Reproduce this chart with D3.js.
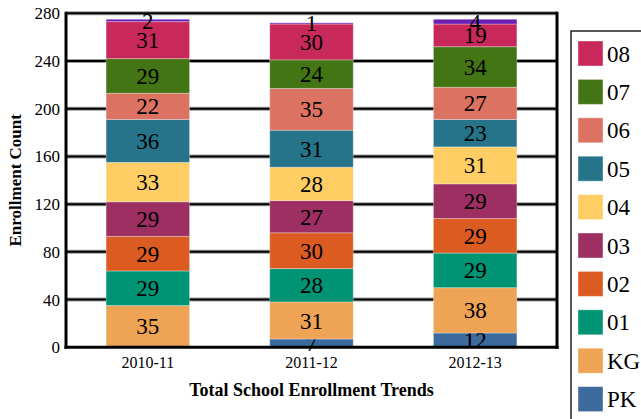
<!DOCTYPE html>
<html>
<head>
<meta charset="utf-8">
<script src="https://cdn.jsdelivr.net/npm/d3@7"></script>
<style>
  body { margin: 0; background: #fff; }
  svg { display: block; }
  svg text { font-family: "Liberation Serif", "Times New Roman", serif; }
</style>
</head>
<body>
<div id="chart"></div>
<script>
// school years on the x axis
const years = ["2010-11", "2011-12", "2012-13"]

// grades, bottom of the stack first
const grades = ["PK", "KG", "01", "02", "03", "04", "05", "06", "07", "08", "09"]

// enrollment per grade, one value per year
const pk  = [0, 7, 12]
const kg  = [35, 31, 38]
const g01 = [29, 28, 29]
const g02 = [29, 30, 29]
const g03 = [29, 27, 29]
const g04 = [33, 28, 31]
const g05 = [36, 31, 23]
const g06 = [22, 35, 27]
const g07 = [29, 24, 34]
const g08 = [31, 30, 19]
const g09 = [2, 1, 4]

const yTicks = [0, 40, 80, 120, 160, 200, 240, 280]

const gradeColors = {
  PK: "#3d6b9d",
  KG: "#efa354",
  "01": "#009474",
  "02": "#dc5b21",
  "03": "#9d2f62",
  "04": "#fece64",
  "05": "#26748a",
  "06": "#dc7262",
  "07": "#447515",
  "08": "#c8285a",
  "09": "#6c1fb4"
}

// legend shows 08 down to PK (the rest is cut off by the window)
const legendGrades = ["08", "07", "06", "05", "04", "03", "02", "01", "KG", "PK"]

const series = [pk, kg, g01, g02, g03, g04, g05, g06, g07, g08, g09]
const rows = years.map((y, i) => {
  const row = { year: y }
  grades.forEach((g, j) => { row[g] = series[j][i] })
  return row
})

const width = 641
const height = 419

const plot = { left: 66, right: 557, top: 13.3, bottom: 347.3 }

const svg = d3.select("#chart")
  .append("svg")
  .attr("width", width)
  .attr("height", height)

const xScale = d3.scaleBand()
  .domain(years)
  .range([plot.left, plot.right])
  .paddingInner(0.49)
  .paddingOuter(0.245)

const yScale = d3.scaleLinear()
  .domain([0, 280])
  .range([plot.bottom, plot.top])

// gridlines: gray band with a black core
const grid = svg.append("g").attr("class", "grid")
grid.selectAll("line.halo")
  .data(yTicks.filter(d => d > 0))
  .join("line")
  .attr("class", "halo")
  .attr("x1", plot.left)
  .attr("x2", plot.right)
  .attr("y1", d => yScale(d))
  .attr("y2", d => yScale(d))
  .attr("stroke", "#9a9a9a")
  .attr("stroke-width", 4)
grid.selectAll("line.core")
  .data(yTicks.filter(d => d > 0))
  .join("line")
  .attr("class", "core")
  .attr("x1", plot.left)
  .attr("x2", plot.right)
  .attr("y1", d => yScale(d))
  .attr("y2", d => yScale(d))
  .attr("stroke", "#000")
  .attr("stroke-width", 2)

// stacked bars
const stacked = d3.stack().keys(grades)(rows)

const layers = svg.append("g")
  .attr("class", "bars")
  .selectAll("g")
  .data(stacked)
  .join("g")
  .attr("fill", d => gradeColors[d.key])

layers.selectAll("rect")
  .data(d => d.filter(s => s[1] - s[0] > 0))
  .join("rect")
  .attr("x", d => xScale(d.data.year))
  .attr("width", xScale.bandwidth())
  .attr("y", d => yScale(d[1]))
  .attr("height", d => yScale(d[0]) - yScale(d[1]))
  .attr("stroke", "#fff")
  .attr("stroke-opacity", 0.3)
  .attr("stroke-width", 1)

// segment labels
layers.selectAll("text")
  .data(d => d.filter(s => s[1] - s[0] > 0))
  .join("text")
  .attr("x", d => xScale(d.data.year) + xScale.bandwidth() / 2)
  .attr("y", d => yScale((d[0] + d[1]) / 2))
  .attr("dy", "0.35em")
  .attr("text-anchor", "middle")
  .attr("fill", "#000")
  .attr("font-size", "23px")
  .text(d => d[1] - d[0])

// frame: left axis, bottom axis, right border
svg.append("line")
  .attr("x1", plot.left).attr("x2", plot.left)
  .attr("y1", plot.top - 1.5).attr("y2", plot.bottom + 1.5)
  .attr("stroke", "#000").attr("stroke-width", 3)
svg.append("line")
  .attr("x1", plot.right).attr("x2", plot.right)
  .attr("y1", plot.top - 1.5).attr("y2", plot.bottom + 1.5)
  .attr("stroke", "#000").attr("stroke-width", 3)
svg.append("line")
  .attr("x1", plot.left - 1.5).attr("x2", plot.right + 1.5)
  .attr("y1", plot.bottom).attr("y2", plot.bottom)
  .attr("stroke", "#000").attr("stroke-width", 3)

// y tick labels
svg.append("g")
  .selectAll("text")
  .data(yTicks)
  .join("text")
  .attr("x", plot.left - 6)
  .attr("y", d => yScale(d))
  .attr("dy", "0.35em")
  .attr("text-anchor", "end")
  .attr("font-size", "17px")
  .text(d => d)

// x tick labels
svg.append("g")
  .selectAll("text")
  .data(years)
  .join("text")
  .attr("x", d => xScale(d) + xScale.bandwidth() / 2)
  .attr("y", 368)
  .attr("text-anchor", "middle")
  .attr("font-size", "16px")
  .text(d => d)

// axis titles
svg.append("text")
  .attr("x", (plot.left + plot.right) / 2)
  .attr("y", 396)
  .attr("text-anchor", "middle")
  .attr("font-size", "18px")
  .attr("font-weight", "bold")
  .text("Total School Enrollment Trends")

svg.append("text")
  .attr("transform", `translate(21 ${(plot.top + plot.bottom) / 2}) rotate(-90)`)
  .attr("text-anchor", "middle")
  .attr("font-size", "17px")
  .attr("font-weight", "bold")
  .text("Enrollment Count")

// legend
const legend = svg.append("g").attr("transform", "translate(571 31)")
legend.append("rect")
  .attr("x", 0).attr("y", 0)
  .attr("width", 120).attr("height", 420)
  .attr("fill", "#fff")
  .attr("stroke", "#222")
  .attr("stroke-width", 1.5)

const items = legend.selectAll("g.item")
  .data(legendGrades)
  .join("g")
  .attr("class", "item")
  .attr("transform", (d, i) => `translate(7 ${10 + i * 38.4})`)
items.append("rect")
  .attr("width", 25).attr("height", 25)
  .attr("fill", d => gradeColors[d])
  .attr("stroke", "#fff")
  .attr("stroke-opacity", 0.4)
items.append("text")
  .attr("x", 29)
  .attr("y", 12.5)
  .attr("dy", "0.35em")
  .attr("font-size", "23px")
  .text(d => d)
</script>
</body>
</html>
